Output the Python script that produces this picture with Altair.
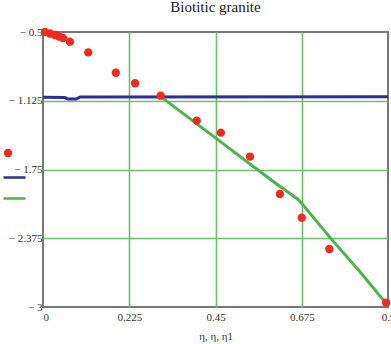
import altair as alt
import pandas as pd

# measured data (x = eta, y = log values)
red_x = [0.005, 0.018, 0.031, 0.042, 0.052, 0.070, 0.118, 0.190, 0.240, 0.307,
         0.401, 0.464, 0.540, 0.618, 0.675, 0.747, 0.895]
red_y = [-0.500, -0.514, -0.527, -0.541, -0.555, -0.588, -0.685, -0.870, -0.966, -1.079,
         -1.306, -1.415, -1.633, -1.973, -2.188, -2.473, -2.961]

blue_x = [0.0, 0.057, 0.065, 0.086, 0.097, 0.9]
blue_y = [-1.094, -1.096, -1.109, -1.109, -1.090, -1.088]

green_x = [0.308, 0.449, 0.540, 0.605, 0.665, 0.678, 0.754, 0.827, 0.900]
green_y = [-1.090, -1.460, -1.700, -1.870, -2.020, -2.070, -2.390, -2.680, -2.990]

x_ticks = [0, 0.225, 0.45, 0.675, 0.9]
y_ticks = [-0.5, -1.125, -1.75, -2.375, -3]

RED = "#f02a1e"
BLUE = "#2c2c9c"
GREEN = "#4db34d"
GRID = "#6cbf6c"
SERIF = "Liberation Serif"

pts = pd.DataFrame({"x": red_x, "y": red_y, "s": "pts"})
lines = pd.concat([
    pd.DataFrame({"x": blue_x, "y": blue_y, "s": "blue", "o": range(len(blue_x))}),
    pd.DataFrame({"x": green_x, "y": green_y, "s": "green", "o": range(len(green_x))}),
])

xscale = alt.Scale(domain=[0, 0.9], nice=False, zero=False)
yscale = alt.Scale(domain=[-3, -0.5], nice=False, zero=False)

xaxis = alt.Axis(
    values=x_ticks, format=".4~f", title="η, η, η1", titleFont=SERIF, titleFontSize=11,
    titleFontWeight="normal", titleColor="#333", titlePadding=8,
    labelFont=SERIF, labelFontSize=11, labelColor="#333", labelPadding=4,
    labelFlush=False, labelOverlap=False, labelBound=False,
    labelAlign={"condition": {"test": "datum.value === 0", "value": "left"}, "value": "center"},
    domain=False, ticks=False, grid=True, gridColor=GRID, gridWidth=1.6,
    gridOpacity={"condition": {"test": "datum.value === 0 || datum.value === 0.9", "value": 0}, "value": 1},
)
yaxis = alt.Axis(
    values=y_ticks, title=None,
    labelFont=SERIF, labelFontSize=11, labelColor="#333", labelPadding=1,
    labelExpr="'− ' + format(-datum.value, '.4~f')",
    labelOverlap=False, labelBound=False, labelFlush=False,
    domain=False, ticks=False, grid=True, gridColor=GRID, gridWidth=1.6,
    gridOpacity={"condition": {"test": "datum.value === -0.5 || datum.value === -3", "value": 0}, "value": 1},
)

line_layer = alt.Chart(lines).mark_line(strokeWidth=3, clip=False).encode(
    x=alt.X("x:Q", scale=xscale, axis=xaxis),
    y=alt.Y("y:Q", scale=yscale, axis=yaxis),
    order="o:Q",
    color=alt.Color("s:N", scale=alt.Scale(domain=["blue", "green"], range=[BLUE, GREEN]),
                    legend=alt.Legend(orient="none", legendX=-41, legendY=133, title=None,
                                      symbolType="stroke", symbolSize=484, symbolStrokeWidth=2.5,
                                      labelExpr="''", labelFontSize=8, rowPadding=3)),
)

point_layer = alt.Chart(pts).mark_point(filled=True, size=70, opacity=1, clip=False).encode(
    x=alt.X("x:Q", scale=xscale),
    y=alt.Y("y:Q", scale=yscale),
    color=alt.Color("s:N", scale=alt.Scale(domain=["pts"], range=[RED]),
                    legend=alt.Legend(orient="none", legendX=-40, legendY=116, title=None,
                                      symbolType="circle", symbolSize=70, symbolOpacity=1,
                                      labelExpr="''", labelFontSize=8)),
)

chart = (
    alt.layer(line_layer, point_layer)
    .resolve_scale(color="independent")
    .resolve_legend(color="independent")
    .properties(
        width=345, height=275,
        autosize=alt.AutoSizeParams(type="none"),
        padding={"left": 43, "top": 32, "right": 3, "bottom": 37},
        title=alt.TitleParams("Biotitic granite", font=SERIF, fontSize=15,
                              fontWeight="normal", color="#222", anchor="middle", offset=11),
        background="white",
    )
    .configure_view(stroke="#777777", strokeWidth=2)
)

chart.save("out.html", embed_options={"renderer": "svg", "actions": False})
